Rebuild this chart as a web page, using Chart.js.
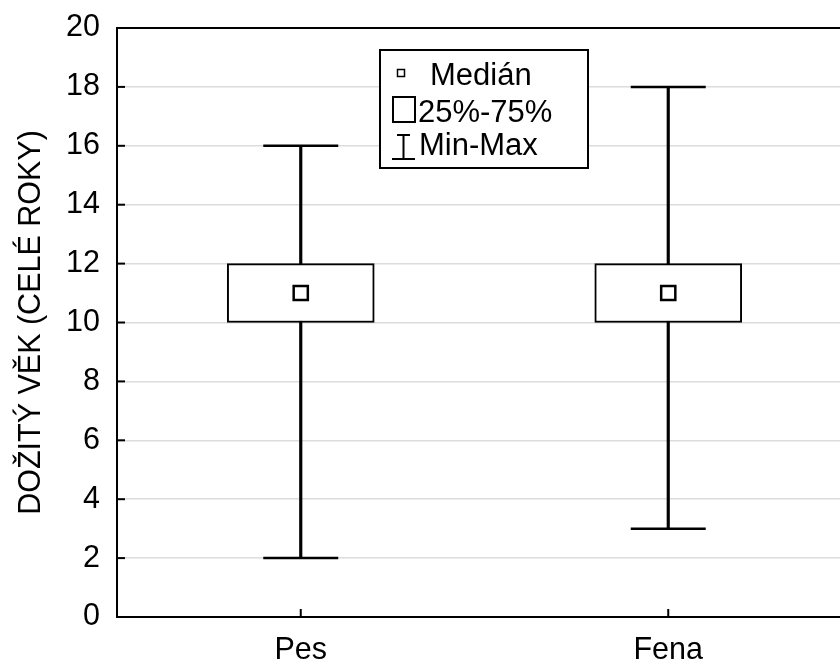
<!DOCTYPE html>
<html>
<head>
<meta charset="utf-8">
<script src="https://cdn.jsdelivr.net/npm/chart.js@4/dist/chart.umd.min.js"></script>
<style>
  html, body { margin: 0; padding: 0; background: #fff; overflow: hidden; }
  canvas { display: block; }
</style>
</head>
<body>
<canvas id="boxChart" width="852" height="662"></canvas>
<script>
// hodnoty
const categories = ['Pes', 'Fena'];
const minVals = [2, 3];
const q1Vals = [10, 10];
const medianVals = [11, 11];
const q3Vals = [12, 12];
const maxVals = [16, 18];
const yMin = 0, yMax = 20, yStep = 2;
const yTitle = 'DOŽITÝ VĚK (CELÉ ROKY)';
const legendLabels = ['Medián', '25%-75%', 'Min-Max'];

const FONT = "'Liberation Sans', Arial, sans-serif";
Chart.defaults.font.family = FONT;
Chart.defaults.color = '#000';

// rámeček, vnitřní značky os a legenda
const framePlugin = {
  id: 'frame',
  afterDraw(chart) {
    const { ctx, chartArea: a, scales } = chart;
    ctx.save();
    ctx.strokeStyle = '#000';
    ctx.lineWidth = 2;
    ctx.strokeRect(a.left, a.top, a.right - a.left, a.bottom - a.top);

    // značky na ose y (dovnitř)
    scales.y.ticks.forEach(t => {
      const y = scales.y.getPixelForValue(t.value);
      ctx.beginPath();
      ctx.moveTo(a.left, y);
      ctx.lineTo(a.left + 8, y);
      ctx.stroke();
    });
    // značky na ose x
    categories.forEach((c, i) => {
      const x = scales.x.getPixelForValue(i);
      ctx.beginPath();
      ctx.moveTo(x, a.bottom);
      ctx.lineTo(x, a.bottom - 8);
      ctx.stroke();
    });

    // legenda
    ctx.fillStyle = '#fff';
    ctx.fillRect(380, 50, 208, 118);
    ctx.strokeRect(380, 50, 208, 118);
    ctx.fillStyle = '#000';
    ctx.font = '31px ' + FONT;
    ctx.textBaseline = 'alphabetic';
    ctx.lineWidth = 1.5;
    ctx.strokeRect(397.5, 69.5, 7, 7);
    ctx.fillText(legendLabels[0], 430, 85);
    ctx.lineWidth = 2;
    ctx.strokeRect(393, 97, 22, 25);
    ctx.fillText(legendLabels[1], 418, 122);
    ctx.beginPath();
    ctx.moveTo(397, 135); ctx.lineTo(410, 135);
    ctx.moveTo(403.5, 135); ctx.lineTo(403.5, 159);
    ctx.moveTo(392, 159); ctx.lineTo(415, 159);
    ctx.stroke();
    ctx.fillText(legendLabels[2], 419, 155);
    ctx.restore();
  }
};

new Chart(document.getElementById('boxChart'), {
  type: 'bar',
  data: {
    labels: categories,
    datasets: [
      {
        type: 'line',
        label: 'Medián',
        data: medianVals,
        showLine: false,
        pointStyle: 'rect',
        pointRadius: 10,
        pointBackgroundColor: '#fff',
        pointBorderColor: '#000',
        pointBorderWidth: 2.5,
        order: 0
      },
      {
        label: '25%-75%',
        data: q1Vals.map((v, i) => [v, q3Vals[i]]),
        backgroundColor: '#fff',
        borderColor: '#000',
        borderWidth: 2,
        borderSkipped: false,
        barThickness: 147,
        grouped: false,
        order: 1
      },
      {
        type: 'line',
        label: 'Min',
        data: minVals,
        showLine: false,
        pointStyle: 'line',
        pointRadius: 37.5,
        pointBorderColor: '#000',
        pointBorderWidth: 2.5,
        order: 2
      },
      {
        type: 'line',
        label: 'Max',
        data: maxVals,
        showLine: false,
        pointStyle: 'line',
        pointRadius: 37.5,
        pointBorderColor: '#000',
        pointBorderWidth: 2.5,
        order: 2
      },
      {
        label: 'Min-Max',
        data: minVals.map((v, i) => [v, maxVals[i]]),
        backgroundColor: '#000',
        borderWidth: 0,
        barThickness: 2.5,
        grouped: false,
        order: 3
      }
    ]
  },
  options: {
    responsive: false,
    animation: false,
    devicePixelRatio: 1,
    layout: { autoPadding: false, padding: { top: 28, left: 0, right: 0, bottom: 0 } },
    plugins: {
      legend: { display: false },
      tooltip: { enabled: false }
    },
    scales: {
      x: {
        grid: { display: false, drawTicks: false },
        border: { display: false },
        ticks: { font: { size: 30.5 }, color: '#000', padding: 15 },
        afterFit(scale) {
          scale.height = 45;
          scale.paddingLeft = 0;
          scale.paddingRight = 0;
        }
      },
      y: {
        min: yMin,
        max: yMax,
        grid: { color: '#dcdcdc', lineWidth: 1.5, drawTicks: false },
        border: { display: false },
        ticks: { stepSize: yStep, font: { size: 30.5 }, color: '#000', padding: 17 },
        title: {
          display: true,
          text: yTitle,
          font: { size: 30.5 },
          color: '#000',
          padding: { top: 13, bottom: 0 }
        },
        afterFit(scale) {
          scale.width = 117;
          scale.paddingTop = 0;
          scale.paddingBottom = 0;
        }
      }
    }
  },
  plugins: [framePlugin]
});
</script>
</body>
</html>
